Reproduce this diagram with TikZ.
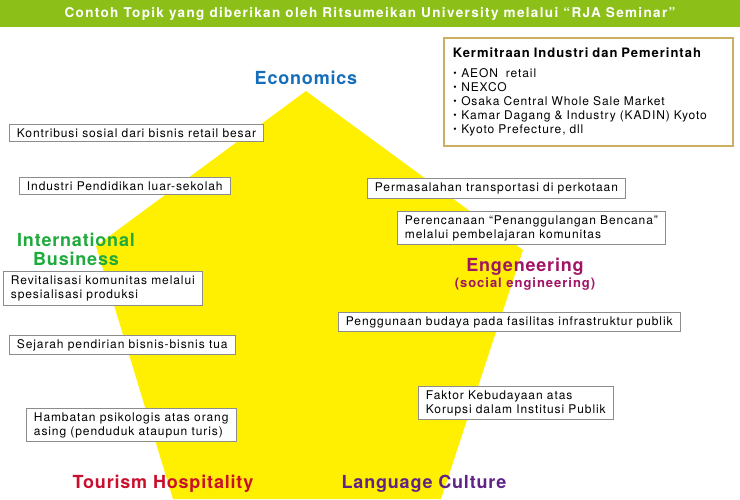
\documentclass[tikz,border=0pt]{standalone}
\usepackage{fontspec}
\setmainfont{TeX Gyre Heros}
\newfontfamily\hurufkotak{TeX Gyre Heros}[LetterSpace=7.5]
\newfontfamily\hurufjudul{TeX Gyre Heros}[LetterSpace=10]
\newfontfamily\hurufbidang{TeX Gyre Heros}[LetterSpace=4.5]
\newcommand{\titik}{\makebox[8.5pt][l]{\hspace*{0.5pt}\raisebox{0.3pt}{\fontsize{9.5}{9.5}\selectfont\textbullet}}}
\definecolor{hijau}{RGB}{140,192,25}
\definecolor{kuning}{RGB}{255,239,0}
\definecolor{biru}{RGB}{20,110,185}
\definecolor{hijautua}{RGB}{30,170,60}
\definecolor{magenta}{RGB}{160,20,100}
\definecolor{merah}{RGB}{200,15,45}
\definecolor{ungu}{RGB}{95,35,135}
\definecolor{emas}{RGB}{205,175,100}
\begin{document}
\begin{tikzpicture}[x=1pt, y=-1pt,
topik/.style={draw=black!45, fill=white, line width=0.9pt, anchor=west, align=left,
  inner xsep=7.5pt, inner ysep=4pt, font=\hurufkotak\fontsize{12}{14}\selectfont},
bidang/.style={font=\hurufbidang\bfseries\fontsize{18}{19}\selectfont, align=center}]
\useasboundingbox (0,0) rectangle (740,499);
% Judul
\fill[hijau] (0,0) rectangle (740,27);
\node[text=white, font=\hurufjudul\bfseries\fontsize{13.5}{15}\selectfont] (judul) at (370,13.5)
{Contoh Topik yang diberikan oleh Ritsumeikan University melalui “RJA Seminar”};
% Bidang kuning
\fill[kuning] (306,91) -- (523,250) -- (441,499) -- (173,499) -- (96,246) -- cycle;
% Nama bidang
\node[bidang, text=biru] (eko) at (306,77.5) {Economics};
\node[bidang, text=hijautua] (ib) at (76,249.5) {International\\Business};
\node[bidang, text=magenta] (eng) at (525,266.5) {Engeneering};
\node[text=magenta, font=\hurufkotak\bfseries\fontsize{13}{14}\selectfont] (soc) at (525,284.5) {(social engineering)};
\node[bidang, text=merah] (tour) at (163,484) {Tourism Hospitality};
\node[bidang, text=ungu] (lang) at (424,484) {Language Culture};
% Kotak topik
\node[topik] (t1) at (9,133) {Kontribusi sosial dari bisnis retail besar};
\node[topik] (t2) at (19,186) {Industri Pendidikan luar-sekolah};
\node[topik] (t3) at (3,288.5) {Revitalisasi komunitas melalui\\spesialisasi produksi};
\node[topik] (t4) at (9,345) {Sejarah pendirian bisnis-bisnis tua};
\node[topik] (t5) at (26,425) {Hambatan psikologis atas orang\\asing (penduduk ataupun turis)};
\node[topik] (t6) at (367,188.5) {Permasalahan transportasi di perkotaan};
\node[topik] (t7) at (397,228) {Perencanaan “Penanggulangan Bencana”\\melalui pembelajaran komunitas};
\node[topik] (t8) at (338,322) {Penggunaan budaya pada fasilitas infrastruktur publik};
\node[topik] (t9) at (418,403) {Faktor Kebudayaan atas\\Korupsi dalam Institusi Publik};
% Kotak mitra
\node[draw=emas, line width=1.5pt, fill=white, anchor=north west, align=left,
  text width=271pt, minimum height=108pt, inner xsep=9pt, inner ysep=5pt,
  font=\hurufkotak\fontsize{12}{14}\selectfont] (mitra) at (443,37)
{{\bfseries\fontsize{13}{16}\selectfont Kermitraan Industri dan Pemerintah}\\[5.5pt]
\titik AEON\ \ retail\\
\titik NEXCO\\
\titik Osaka Central Whole Sale Market\\
\titik Kamar Dagang \& Industry (KADIN) Kyoto\\
\titik Kyoto Prefecture, dll};
\end{tikzpicture}
\end{document}
